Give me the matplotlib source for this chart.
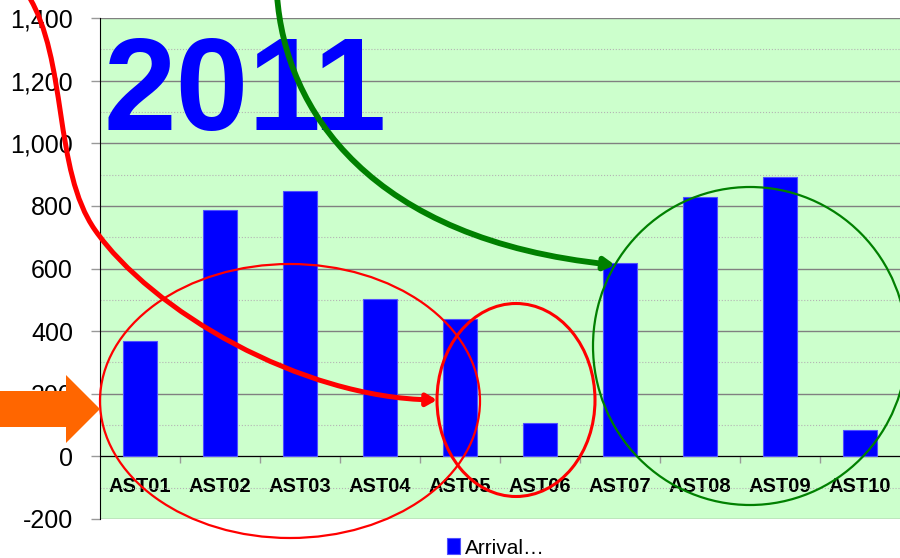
import numpy as np
import matplotlib
matplotlib.use("Agg")
import matplotlib.pyplot as plt
from matplotlib.patches import Ellipse, FancyArrowPatch, Polygon
from matplotlib.path import Path
from matplotlib.ticker import FuncFormatter

# Chart data
categories = ["AST01", "AST02", "AST03", "AST04", "AST05",
              "AST06", "AST07", "AST08", "AST09", "AST10"]
arrivals = [367, 788, 848, 504, 438, 108, 616, 828, 891, 84]
series_name = "Arrival\u2026"
year_label = "2011"
y_major = [-200, 0, 200, 400, 600, 800, 1000, 1200, 1400]
y_minor = [-100, 100, 300, 500, 700, 900, 1100, 1300]

FONT = ["Liberation Sans", "DejaVu Sans"]
W, H = 900, 558


def px(x, y):
    """pixel position (from top-left) -> figure fraction"""
    return (x / W, 1 - y / H)


fig = plt.figure(figsize=(W / 100, H / 100), dpi=100)
ax = fig.add_axes([100 / W, 1 - 519 / H, 800 / W, (519 - 18) / H])
ax.set_facecolor("#CCFFCC")

x = np.arange(len(categories))
bars = ax.bar(x, arrivals, width=0.43, color="#0000FF", edgecolor="#5050FF",
              linewidth=0.8, zorder=3, label=series_name)

ax.set_xlim(-0.5, len(categories) - 0.5)
ax.set_ylim(-200, 1400)

# y axis
ax.set_yticks(y_major)
ax.set_yticks(y_minor, minor=True)
ax.yaxis.set_major_formatter(FuncFormatter(lambda v, p: f"{v:,.0f}"))
ax.tick_params(axis="y", which="major", length=6.5, width=1, color="#999999",
               pad=13, labelsize=18)
ax.tick_params(axis="y", which="minor", length=0)
for lab in ax.get_yticklabels():
    lab.set_family(FONT)
ax.yaxis.grid(True, which="major", color="#808080", linewidth=1)
ax.yaxis.grid(True, which="minor", color="#b4b4b4", linewidth=0.8, linestyle=":")
ax.set_axisbelow(True)

# x axis sits on zero
ax.spines["bottom"].set_position(("data", 0))
ax.spines["bottom"].set_color("black")
ax.spines["left"].set_color("black")
ax.spines["top"].set_visible(False)
ax.spines["right"].set_visible(False)
ax.set_xticks(x)
ax.set_xticklabels(categories, fontsize=14.5, fontweight="bold", family=FONT)
ax.set_xticks(np.arange(0.5, len(categories) - 0.5), minor=True)
ax.tick_params(axis="x", which="major", length=0, pad=15)
ax.tick_params(axis="x", which="minor", length=5, width=1, color="#999999")

# legend below the plot
fig.legend(handles=[bars], labels=[series_name], loc="upper left",
           bbox_to_anchor=px(437, 528), frameon=False, borderpad=0,
           handlelength=0.6, handleheight=0.8, handletextpad=0.25,
           prop={"family": FONT, "size": 15})

# big year label
fig.text(*px(103, 130), year_label, fontsize=94, fontweight="bold",
         color="#0000FF", family=FONT, va="baseline", ha="left", zorder=3)

# --- annotations ---
tf = fig.transFigure


def curve(points):
    verts = [px(*p) for p in points]
    codes = [Path.MOVETO] + [Path.CURVE4] * (len(verts) - 1)
    return Path(verts, codes)


red_path = curve([(28, -5), (68, 60), (53, 170), (95, 230),
                  (151, 310), (300, 398), (437, 400)])
fig.add_artist(FancyArrowPatch(path=red_path, transform=tf,
                               arrowstyle="-|>,head_length=6,head_width=3.5",
                               color="#FF0000", linewidth=3.6, zorder=6))

green_path = curve([(277, -5), (285, 110), (370, 240), (615, 265)])
fig.add_artist(FancyArrowPatch(path=green_path, transform=tf,
                               arrowstyle="-|>,head_length=6,head_width=3.5",
                               color="#008000", linewidth=4.2, zorder=6))

for (cx, cy, w, h, col, lw) in [(290, 401, 380, 274, "#FF0000", 1.6),
                                (516, 400, 158, 193, "#FF0000", 2.2),
                                (750, 346, 314, 318, "#008000", 1.6)]:
    fig.add_artist(Ellipse(px(cx, cy), w / W, h / H, transform=tf,
                           fill=False, edgecolor=col, linewidth=lw, zorder=6))

# orange block arrow on the left
orange = [(0, 391), (66, 391), (66, 375), (100, 409), (66, 443), (66, 427), (0, 427)]
fig.add_artist(Polygon([px(*p) for p in orange], closed=True, transform=tf,
                       facecolor="#FF6600", edgecolor="none", zorder=7))

fig.savefig("out.png", dpi=100)
